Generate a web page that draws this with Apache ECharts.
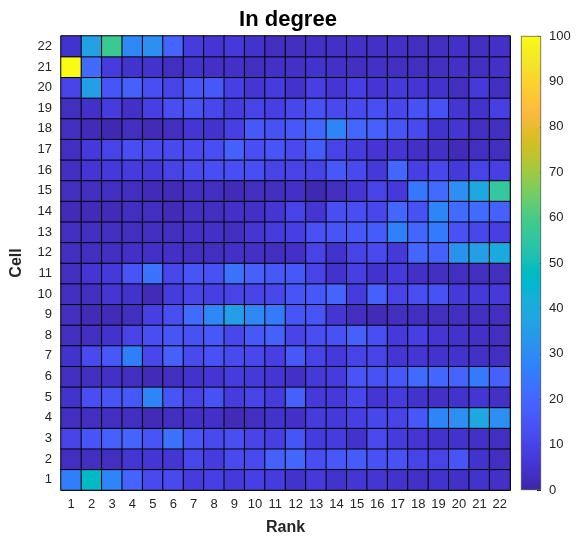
<!DOCTYPE html>
<html>
<head>
<meta charset="utf-8">
<script src="https://cdn.jsdelivr.net/npm/echarts@6/dist/echarts.min.js"></script>
<style>html,body{margin:0;padding:0;background:#fff;}#c{width:576px;height:541px;}</style>
</head>
<body>
<div id="c"></div>
<script>
// Categories
const ranks = ['1','2','3','4','5','6','7','8','9','10','11','12','13','14','15','16','17','18','19','20','21','22'];
const cells = ['1','2','3','4','5','6','7','8','9','10','11','12','13','14','15','16','17','18','19','20','21','22'];
const colorbarTicks = [0,10,20,30,40,50,60,70,80,90,100];

// In-degree values, one array per cell (index = rank 1..22)
const cell1  = [26,47,28,19,12,12,8,9,7,9,8,5,7,5,6,6,5,4,5,4,5,4];
const cell2  = [3,3,3,6,6,6,11,8,12,12,18,20,13,16,17,14,14,10,10,15,5,3];
const cell3  = [10,15,18,19,15,23,15,12,13,10,9,15,8,8,5,12,8,6,5,5,4,3];
const cell4  = [3,3,3,3,2,3,4,4,2,3,5,4,8,7,9,11,10,16,28,31,39,31];
const cell5  = [5,13,15,16,28,15,10,14,8,10,8,18,7,7,11,6,8,5,4,5,6,4];
const cell6  = [3,3,4,3,2,3,5,6,8,7,6,4,7,8,15,14,16,21,20,19,25,18];
const cell7  = [5,12,16,26,11,18,12,14,12,11,9,16,10,7,10,10,6,6,5,5,4,3];
const cell8  = [3,3,5,10,13,15,14,16,11,16,18,10,13,14,18,13,7,9,6,5,4,3];
const cell9  = [3,2,2,3,9,13,21,29,36,29,25,15,15,6,3,2,3,3,3,3,3,3];
const cell10 = [3,3,6,5,2,8,10,9,10,10,11,15,16,19,8,18,10,13,14,7,7,7];
const cell11 = [3,6,7,15,23,11,15,14,23,18,16,16,10,5,9,5,7,4,3,3,3,3];
const cell12 = [3,3,3,4,4,4,3,3,4,4,3,4,10,5,10,12,7,20,18,32,36,40];
const cell13 = [3,3,3,3,3,3,4,4,3,6,8,9,14,15,16,17,27,20,25,14,11,9];
const cell14 = [2,2,2,3,3,2,3,3,4,4,6,10,6,13,13,11,20,14,28,21,21,18];
const cell15 = [3,3,3,3,2,2,3,3,2,3,3,4,1,3,6,10,7,24,21,31,39,56];
const cell16 = [3,6,7,8,7,10,12,13,13,13,10,10,10,16,12,7,20,9,11,7,10,9];
const cell17 = [3,7,10,13,12,12,12,13,18,13,15,12,17,10,8,6,6,4,4,2,3,3];
const cell18 = [3,2,1,3,2,3,6,5,9,16,14,16,20,28,20,18,15,12,5,6,3,3];
const cell19 = [3,4,8,4,9,13,14,11,8,10,9,11,14,12,12,13,11,14,14,6,5,9];
const cell20 = [10,36,15,18,13,10,15,16,9,6,8,5,9,6,9,6,7,6,5,3,7,3];
const cell21 = [100,21,8,5,5,3,5,4,4,3,4,4,5,4,3,4,3,3,3,4,3,4];
const cell22 = [5,37,58,29,31,19,8,6,7,5,3,3,4,4,4,4,4,3,3,4,3,4];

const cellRows = [cell1,cell2,cell3,cell4,cell5,cell6,cell7,cell8,cell9,cell10,cell11,
  cell12,cell13,cell14,cell15,cell16,cell17,cell18,cell19,cell20,cell21,cell22];

const parula = [
[0.2422,0.1504,0.6603],[0.2504,0.1650,0.7076],[0.2578,0.1818,0.7511],[0.2647,0.1978,0.7952],
[0.2706,0.2147,0.8364],[0.2751,0.2342,0.8710],[0.2783,0.2559,0.8991],[0.2803,0.2782,0.9221],
[0.2813,0.3006,0.9414],[0.2810,0.3228,0.9579],[0.2795,0.3447,0.9717],[0.2760,0.3667,0.9829],
[0.2699,0.3892,0.9906],[0.2602,0.4123,0.9952],[0.2440,0.4358,0.9988],[0.2206,0.4603,0.9973],
[0.1963,0.4847,0.9892],[0.1834,0.5074,0.9798],[0.1786,0.5289,0.9682],[0.1764,0.5499,0.9520],
[0.1687,0.5703,0.9359],[0.1540,0.5902,0.9218],[0.1460,0.6091,0.9079],[0.1380,0.6276,0.8973],
[0.1248,0.6459,0.8883],[0.1113,0.6635,0.8763],[0.0952,0.6798,0.8598],[0.0689,0.6948,0.8394],
[0.0297,0.7082,0.8163],[0.0036,0.7203,0.7917],[0.0067,0.7312,0.7660],[0.0433,0.7411,0.7394],
[0.0964,0.7500,0.7120],[0.1408,0.7584,0.6842],[0.1717,0.7670,0.6554],[0.1938,0.7758,0.6251],
[0.2161,0.7843,0.5923],[0.2470,0.7918,0.5567],[0.2906,0.7973,0.5188],[0.3406,0.8008,0.4789],
[0.3909,0.8029,0.4354],[0.4456,0.8024,0.3909],[0.5044,0.7993,0.3480],[0.5616,0.7942,0.3045],
[0.6174,0.7876,0.2612],[0.6720,0.7793,0.2227],[0.7242,0.7698,0.1910],[0.7738,0.7598,0.1646],
[0.8203,0.7498,0.1535],[0.8634,0.7406,0.1596],[0.9035,0.7330,0.1774],[0.9393,0.7288,0.2100],
[0.9728,0.7298,0.2394],[0.9956,0.7434,0.2371],[0.9970,0.7659,0.2199],[0.9952,0.7893,0.2028],
[0.9892,0.8136,0.1885],[0.9786,0.8386,0.1766],[0.9676,0.8639,0.1643],[0.9610,0.8890,0.1537],
[0.9597,0.9135,0.1423],[0.9628,0.9373,0.1265],[0.9691,0.9606,0.1064],[0.9769,0.9839,0.0805]
].map(c => 'rgb(' + c.map(v => Math.round(v*255)).join(',') + ')');

const heatData = [];
cellRows.forEach((row, yi) => row.forEach((v, xi) => heatData.push([xi, yi, v])));

const FONT = 'Liberation Sans';
const TXT = '#262626';
const gridL = 61, gridT = 36, gridW = 449, gridH = 454;

const chart = echarts.init(document.getElementById('c'), null, {renderer: 'canvas'});
chart.setOption({
  animation: false,
  backgroundColor: '#fff',
  textStyle: {fontFamily: FONT},
  title: {
    text: 'In degree', left: 283, top: 4, textAlign: 'center',
    textStyle: {fontFamily: FONT, fontWeight: 'bold', fontSize: 22, color: '#000'}
  },
  grid: [
    {left: gridL, top: gridT, width: gridW, height: gridH},
    {left: 521, top: gridT, width: 20, height: gridH}
  ],
  xAxis: [
    {type: 'category', gridIndex: 0, data: ranks, position: 'bottom',
      name: 'Rank', nameLocation: 'middle', nameGap: 30,
      nameTextStyle: {fontFamily: FONT, fontWeight: 'bold', fontSize: 16, color: TXT},
      axisLine: {show: true, lineStyle: {color: TXT, width: 1}},
      axisTick: {show: true, inside: true, alignWithLabel: true, length: 4, lineStyle: {color: TXT}},
      axisLabel: {fontFamily: FONT, fontSize: 13, color: TXT, margin: 8, interval: 0},
      splitLine: {show: false}},
    {type: 'category', gridIndex: 0, data: ranks, position: 'top',
      axisLine: {show: true, lineStyle: {color: TXT, width: 1}},
      axisTick: {show: true, inside: true, alignWithLabel: true, length: 4, lineStyle: {color: TXT}},
      axisLabel: {show: false}},
    {type: 'category', gridIndex: 1, data: ['c'], axisLine: {show: false},
      axisTick: {show: false}, axisLabel: {show: false}}
  ],
  yAxis: [
    {type: 'category', gridIndex: 0, data: cells, position: 'left',
      name: 'Cell', nameLocation: 'middle', nameGap: 36, nameRotate: 90,
      nameTextStyle: {fontFamily: FONT, fontWeight: 'bold', fontSize: 16, color: TXT},
      axisLine: {show: true, lineStyle: {color: TXT, width: 1}},
      axisTick: {show: true, inside: true, alignWithLabel: true, length: 4, lineStyle: {color: TXT}},
      axisLabel: {fontFamily: FONT, fontSize: 13, color: TXT, margin: 9, interval: 0},
      splitLine: {show: false}},
    {type: 'category', gridIndex: 0, data: cells, position: 'right',
      axisLine: {show: true, lineStyle: {color: TXT, width: 1}},
      axisTick: {show: true, inside: true, alignWithLabel: true, length: 4, lineStyle: {color: TXT}},
      axisLabel: {show: false}},
    {type: 'value', gridIndex: 1, min: 0, max: 100, interval: 10, position: 'right',
      axisLine: {show: false},
      axisTick: {show: true, inside: true, length: 4, lineStyle: {color: TXT}},
      axisLabel: {fontFamily: FONT, fontSize: 13, color: TXT, margin: 8,
        formatter: v => colorbarTicks.indexOf(v) >= 0 ? String(v) : ''},
      splitLine: {show: false}}
  ],
  visualMap: {
    show: false, type: 'continuous', min: 0, max: 100, seriesIndex: 0,
    inRange: {color: parula}
  },
  series: [
    {type: 'heatmap', xAxisIndex: 0, yAxisIndex: 0, data: heatData,
      itemStyle: {borderColor: '#000', borderWidth: 1},
      emphasis: {disabled: true}},
    {type: 'bar', xAxisIndex: 2, yAxisIndex: 2, data: [100], barWidth: '100%',
      silent: true, z: 1,
      itemStyle: {
        borderColor: '#333', borderWidth: 0.6,
        color: new echarts.graphic.LinearGradient(0, 1, 0, 0,
          parula.map((c, i) => ({offset: i/(parula.length-1), color: c})))
      }}
  ]
});
</script>
</body>
</html>
